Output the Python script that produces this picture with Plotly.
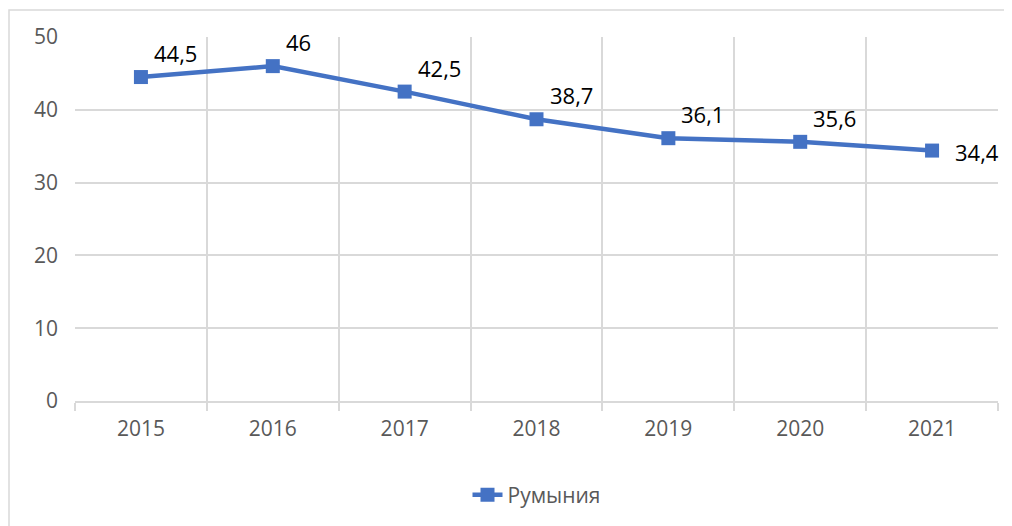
import plotly.graph_objects as go

years = ["2015", "2016", "2017", "2018", "2019", "2020", "2021"]
values = [44.5, 46, 42.5, 38.7, 36.1, 35.6, 34.4]
labels = ["44,5", "46", "42,5", "38,7", "36,1", "35,6", "34,4"]
series_name = "Румыния"

BLUE = "#4472C4"
GRID = "#d9d9d9"
TXT = "#595959"
FONT = "Open Sans"

idx = list(range(len(years)))

fig = go.Figure()
fig.add_trace(go.Scatter(
    x=idx, y=values, name=series_name,
    mode="lines+markers",
    line=dict(color=BLUE, width=4.5),
    marker=dict(symbol="square", size=14, color=BLUE),
    cliponaxis=False,
))

annotations = []
last = len(years) - 1
for i, (v, t) in enumerate(zip(values, labels)):
    if i < last:
        annotations.append(dict(x=i, y=v, text=t, showarrow=False,
                                xanchor="left", yanchor="bottom",
                                xshift=11, yshift=7,
                                font=dict(family=FONT, size=22, color="#000000")))
    else:
        annotations.append(dict(x=i, y=v, text=t, showarrow=False,
                                xanchor="left", yanchor="middle",
                                xshift=21, yshift=-1,
                                font=dict(family=FONT, size=22, color="#000000")))

OFF = 8  # page body margin
W, H = 1012 - OFF, 526 - OFF
L, R, T, B = 75 - OFF, 998 - OFF, 37 - OFF, 402 - OFF
pw, ph = R - L, B - T

fig.update_layout(
    width=W, height=H,
    margin=dict(l=L, r=W - R, t=T, b=H - B, pad=0),
    paper_bgcolor="white", plot_bgcolor="white",
    font=dict(family=FONT, size=21, color=TXT),
    showlegend=True,
    legend=dict(orientation="h", x=0.5, xanchor="center",
                y=(B - (495 - OFF)) / ph, yanchor="middle",
                font=dict(family=FONT, size=21, color=TXT)),
    annotations=annotations,
    xaxis=dict(
        range=[-0.5, len(years) - 0.5],
        tickmode="array", tickvals=idx, ticktext=years,
        showgrid=False, zeroline=False, ticks="",
        tickfont=dict(family=FONT, size=21, color=TXT),
        ticklabelstandoff=8,
        showline=True, linecolor=GRID, linewidth=1.5,
        minor=dict(tickvals=[i - 0.5 for i in range(len(years) + 1)],
                   showgrid=True, gridcolor=GRID, gridwidth=1.5,
                   ticks="outside", ticklen=8, tickcolor=GRID, tickwidth=1.5),
        fixedrange=True, automargin=False,
    ),
    yaxis=dict(
        range=[0, 50], dtick=10, tick0=0,
        showgrid=True, gridcolor=GRID, gridwidth=1.5,
        zeroline=False, showline=False, ticks="",
        tickfont=dict(family=FONT, size=21, color=TXT),
        ticklabelstandoff=16,
        fixedrange=True, automargin=False,
    ),
    shapes=[dict(type="rect", xref="paper", yref="paper",
                 x0=(9 - OFF - L) / pw, x1=(1030 - L) / pw,
                 y0=(B - 560) / ph, y1=(B - (10 - OFF)) / ph,
                 line=dict(color=GRID, width=1.5), fillcolor="rgba(0,0,0,0)",
                 layer="below")],
)

fig.write_html("out.html")
